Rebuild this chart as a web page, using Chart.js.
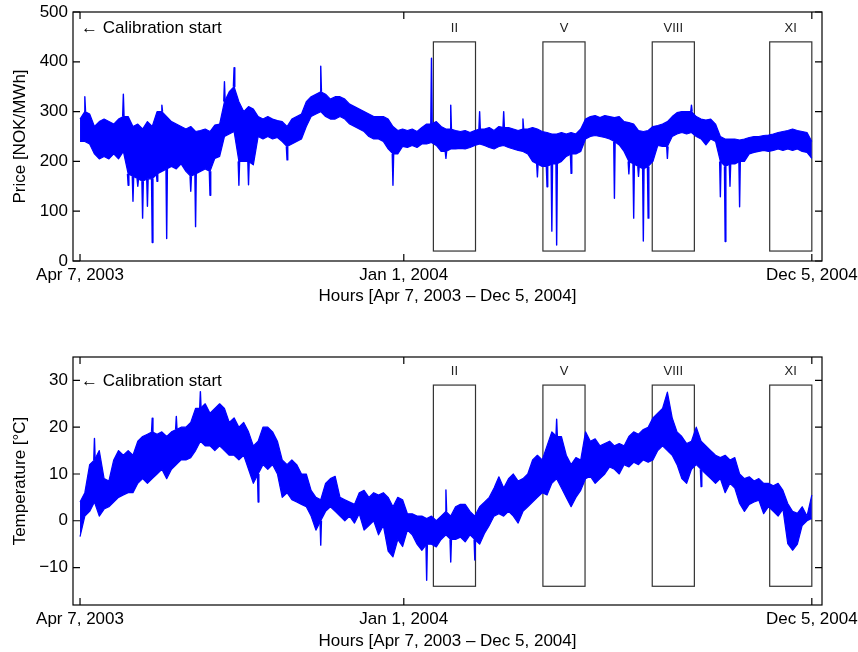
<!DOCTYPE html>
<html>
<head>
<meta charset="utf-8">
<script src="https://cdn.jsdelivr.net/npm/chart.js@4.4.1/dist/chart.umd.min.js"></script>
<style>
  html, body { margin: 0; padding: 0; background: #fff; }
  #wrap { position: relative; width: 858px; height: 652px; }
  #wrap canvas { position: absolute; left: 0; }
  #price { top: 0; }
  #temp { top: 320px; }
</style>
</head>
<body>
<div id="wrap">
  <canvas id="price" width="858" height="310"></canvas>
  <canvas id="temp" width="858" height="332"></canvas>
</div>
<script>
/* Hourly price and temperature, Apr 7 2003 - Dec 5 2004.
   In 4-day samples: top and bottom of the daily band,
   plus the short spikes and dips that stick out of it. */
const STEP = 96;                 // hours per sample
const X_MIN = -140, X_MAX = 14795;

const xTickHours = [0, 6456, 14592];
const xTickLabels = ["Apr 7, 2003", "Jan 1, 2004", "Dec 5, 2004"];
const priceTicks = [0, 100, 200, 300, 400, 500];
const tempTicks = [-10, 0, 10, 20, 30];

const boxNames = ["II", "V", "VIII", "XI"];
const boxStartHours = [7046, 9230, 11410, 13752];
const boxHours = 840;
const calibHour = 0;

const priceHi = [
  285,300,295,270,280,285,280,275,285,290,
  290,270,275,265,280,270,300,300,290,280,
  275,270,265,270,260,262,265,260,273,275,
  320,340,350,320,300,310,305,290,285,290,
  285,282,280,270,285,290,295,320,330,335,
  340,335,325,330,330,325,315,310,305,300,
  295,290,290,290,285,270,262,265,262,265,
  260,268,275,275,280,270,265,265,262,260,
  262,258,262,265,265,268,262,270,268,268,
  265,262,265,265,268,265,260,258,255,255,
  258,255,258,255,265,285,290,292,288,292,
  290,288,290,280,278,275,262,260,262,270,
  272,275,280,290,298,300,300,300,290,285,
  283,285,275,250,245,245,245,243,245,248,
  250,250,252,253,255,258,260,262,265,262,
  260,258,240
];
const priceLo = [
  240,240,235,215,205,210,205,215,205,220,
  175,170,165,160,165,165,175,180,185,190,
  185,195,180,170,175,180,185,180,206,210,
  250,255,260,200,200,200,193,250,245,250,
  245,248,240,230,235,240,245,270,290,295,
  300,290,285,285,290,285,275,270,265,260,
  250,245,245,240,225,215,215,230,228,232,
  228,235,235,238,232,220,220,225,225,226,
  225,228,232,235,232,228,225,230,232,228,
  225,222,220,215,200,195,190,190,195,195,
  200,210,215,215,220,245,250,252,250,248,
  245,240,233,220,200,195,190,185,190,200,
  232,230,230,250,255,258,255,258,250,245,
  233,245,240,200,190,195,195,200,200,215,
  218,220,222,220,222,225,222,225,222,225,
  220,218,206
];
// spikes above the band (sample index, peak price)
const priceSpikeAt  = [1, 9, 17, 30, 32, 50, 73, 77, 83, 88, 92, 127];
const priceSpikeTop = [330, 335, 313, 360, 388, 391, 407, 313, 300, 300, 285, 313];
// dips below the band (sample index, lowest price)
const priceDipAt  = [10, 11, 12, 13, 14, 15, 16, 18, 23, 24, 27, 33, 35, 43, 65, 76, 95, 97, 98, 99,
                     102, 111, 114, 115, 116, 117, 118, 122, 133, 134, 135, 137];
const priceDipMin = [152, 120, 150, 86, 110, 37, 160, 45, 140, 69, 132, 152, 153, 203, 152, 206, 169, 149, 60, 32,
                     176, 126, 175, 86, 170, 40, 86, 206, 129, 39, 150, 109];

const tempHi = [
  4,6,12,13,15,9,8.5,13,15,14,
  15,14,17,18,18.5,19,18.5,19,18,19,
  19.5,20,20,21,24,24,25,23,24,25,
  24,21,22,20,21,19,16,17,20,20,
  19,17,13,12,13,12,10,10,6.5,5,
  4.5,8,9,9.5,5,4.5,4,3.5,6,6.5,
  5,6,5.5,6,5,3,5,4.5,1.5,1.5,
  1,1,0.5,1,0,1,2,1,3,3.5,
  3.5,2,1,3,4,5,7,9.4,7,9,
  10,8.5,9,10,13,14,13,16,19,18,
  18,14,12,13.5,13,19,17,17.5,16,16.5,
  17,16,16.5,16,18,19,18.5,19.5,20,22,
  23,24,27.5,22,19,18,16.5,17,20,17,
  16,15,14,13.5,14,13,13.5,10,9,9.4,
  8.5,9,8,8,7.5,8,6.5,3.7,2,1.6,
  3,1,5.5
];
const tempLo = [
  -3.4,1,2,4,1,2.5,3,4,5,5.5,
  6,6,8,9,8,9,10,11,9,11,
  12,13,13,13.5,15,17,16,16,15,16,
  15,14,14,13,14,11,8,10,12,11,
  12,10,5,6,4.5,4,3.5,3,1,-2,
  0,2,3,2,1,0,1,-0.5,1.5,-2,
  -1,0,-3,-1,-6.5,-7.7,-4,-5.5,-2,-3,
  -5,-6.3,-5,-5,-5.6,-4,-3,-4,-4,-3.5,
  -4.5,-3,-4,-5,-2.7,-1,1,1.5,1,2,
  1,-0.5,2,3,4,5,6,5.5,8,9,
  7,5,3,5,6.5,9,9.5,8,9,10,
  11.5,11,10,12,11.5,12.5,12,13,12.5,13,
  15,16,15,14,12,9,8,11,12,11,
  10,9,8,9,6,8,7,3.7,2,3.5,
  4,4.4,1.5,3,2,1,2.5,-4.9,-6.3,-5,
  -1,0,0.5
];
// short warm peaks and cold dips outside the band (sample index, value)
const tempSpikeAt  = [3, 15, 20, 25, 76, 99];
const tempSpikeTop = [17.6, 21.9, 22.3, 27.6, 6.6, 21.7];
const tempDipAt  = [37, 50, 72, 77, 82, 129];
const tempDipMin = [4, -5.2, -12.7, -8.8, -8.4, 7.3];

const BLUE = "#0000ff";
const FONT = { family: "Liberation Sans", size: 17 };

function edge(vals) {
  return vals.map(function (v, i) { return { x: i * STEP, y: v }; });
}

// narrow V from the band edge out to each spike value, broken between spikes
function spikes(at, ext, base) {
  const pts = [];
  at.forEach(function (i, k) {
    const h = i * STEP;
    pts.push({ x: h - 14, y: base[i] }, { x: h, y: ext[k] }, { x: h + 14, y: base[i] }, { x: h + 15, y: null });
  });
  return pts;
}

function seriesSets(hi, lo, upAt, up, downAt, down) {
  return [
    { data: edge(hi), borderColor: BLUE, borderWidth: 1.2, backgroundColor: BLUE, fill: "+1" },
    { data: edge(lo), borderColor: BLUE, borderWidth: 1.2, fill: false },
    { data: spikes(upAt, up, hi), borderColor: BLUE, borderWidth: 1.4, fill: false, spanGaps: false },
    { data: spikes(downAt, down, lo), borderColor: BLUE, borderWidth: 1.4, fill: false, spanGaps: false }
  ];
}

const frame = {
  id: "frame",
  beforeDatasetsDraw(chart, args, o) {
    const { ctx, scales: { x, y } } = chart;
    ctx.save();
    ctx.strokeStyle = "#333"; ctx.lineWidth = 1.2;
    boxStartHours.forEach(function (h) {
      const x0 = x.getPixelForValue(h), x1 = x.getPixelForValue(h + boxHours);
      const y0 = y.getPixelForValue(o.box[1]), y1 = y.getPixelForValue(o.box[0]);
      ctx.strokeRect(x0, y0, x1 - x0, y1 - y0);
    });
    ctx.restore();
  },
  afterDatasetsDraw(chart, args, o) {
    const { ctx, chartArea: a, scales: { x, y } } = chart;
    ctx.save();
    ctx.strokeStyle = "#000"; ctx.lineWidth = 1.2;
    ctx.strokeRect(a.left, a.top, a.width, a.height);
    ctx.beginPath();
    xTickHours.forEach(function (v) {
      const p = x.getPixelForValue(v);
      ctx.moveTo(p, a.bottom); ctx.lineTo(p, a.bottom - 7);
      ctx.moveTo(p, a.top); ctx.lineTo(p, a.top + 7);
    });
    y.ticks.forEach(function (t) {
      const p = y.getPixelForValue(t.value);
      ctx.moveTo(a.left, p); ctx.lineTo(a.left + 7, p);
      ctx.moveTo(a.right, p); ctx.lineTo(a.right - 7, p);
    });
    ctx.stroke();
    ctx.fillStyle = "#222"; ctx.font = '13px "Liberation Sans"';
    ctx.textAlign = "center"; ctx.textBaseline = "middle";
    boxStartHours.forEach(function (h, k) {
      ctx.fillText(boxNames[k], x.getPixelForValue(h + boxHours / 2), y.getPixelForValue(o.labelAt));
    });
    ctx.fillStyle = "#000"; ctx.font = '17px "Liberation Sans"'; ctx.textAlign = "left";
    ctx.fillText("\u2190 Calibration start", x.getPixelForValue(calibHour) + 1, y.getPixelForValue(o.calibAt));
    ctx.restore();
  }
};

function xScale(height, titlePad) {
  return {
    type: "linear", min: X_MIN, max: X_MAX,
    grid: { display: false, drawTicks: false }, border: { display: false },
    afterBuildTicks: function (s) { s.ticks = xTickHours.map(function (v) { return { value: v }; }); },
    ticks: { autoSkip: false, maxRotation: 0, padding: 4, color: "#000", font: FONT,
      callback: function (v) { return xTickLabels[xTickHours.indexOf(v)]; } },
    title: { display: true, text: "Hours [Apr 7, 2003 \u2013 Dec 5, 2004]", color: "#000", font: FONT,
      padding: { top: 0, bottom: titlePad } },
    afterFit: function (s) { s.height = height; s.paddingLeft = 0; s.paddingRight = 0; }
  };
}

function yScale(min, max, ticks, title) {
  return {
    type: "linear", min: min, max: max,
    grid: { display: false, drawTicks: false }, border: { display: false },
    afterBuildTicks: function (s) { s.ticks = ticks.map(function (v) { return { value: v }; }); },
    ticks: { padding: 5, color: "#000", font: FONT,
      callback: function (v) { return v < 0 ? "\u2212" + Math.abs(v) : String(v); } },
    title: { display: true, text: title, color: "#000", font: FONT, padding: { top: 10, bottom: 0 } },
    afterFit: function (s) { s.width = 73; s.paddingTop = 0; s.paddingBottom = 0; }
  };
}

function makePanel(id, datasets, y, xs, padTop, deco) {
  return new Chart(document.getElementById(id), {
    type: "line",
    data: { datasets: datasets },
    options: {
      responsive: false, animation: false, events: [],
      elements: { point: { radius: 0 }, line: { tension: 0, borderJoinStyle: "round" } },
      layout: { padding: { top: padTop, right: 36, bottom: 0, left: 0 } },
      plugins: { legend: { display: false }, tooltip: { enabled: false }, frame: deco },
      scales: { x: xs, y: y }
    },
    plugins: [frame]
  });
}

makePanel("price",
  seriesSets(priceHi, priceLo, priceSpikeAt, priceSpikeTop, priceDipAt, priceDipMin),
  yScale(0, 500, priceTicks, "Price [NOK/MWh]"), xScale(49, 3), 12,
  { box: [20, 440], labelAt: 467, calibAt: 467 });
makePanel("temp",
  seriesSets(tempHi, tempLo, tempSpikeAt, tempSpikeTop, tempDipAt, tempDipMin),
  yScale(-18, 35, tempTicks, "Temperature [\u00b0C]"), xScale(47, 0), 37,
  { box: [-14, 29], labelAt: 31.9, calibAt: 29.8 });
</script>
</body>
</html>
